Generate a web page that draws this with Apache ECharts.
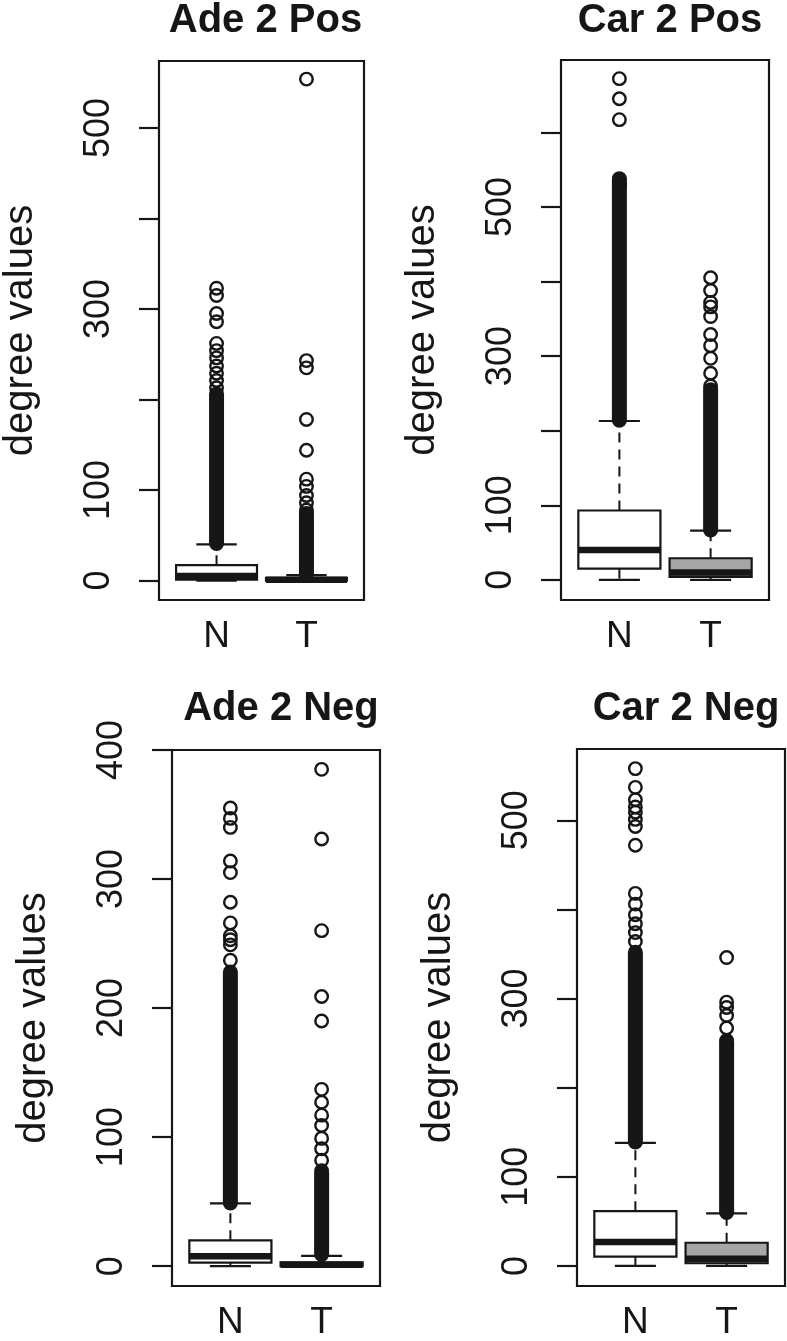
<!DOCTYPE html>
<html>
<head>
<meta charset="utf-8">
<script src="https://cdn.jsdelivr.net/npm/echarts@6/dist/echarts.min.js"></script>
<style>
html,body{margin:0;padding:0;background:#ffffff;}
#chart{width:787px;height:1341px;}
</style>
</head>
<body>
<div id="chart"></div>
<script>
// ---------------- data ----------------
const categories = ['N', 'T'];
const panelTitles = ['Ade 2 Pos', 'Car 2 Pos', 'Ade 2 Neg', 'Car 2 Neg'];
const yAxisName = 'degree values';

// box statistics per category: [lower whisker, Q1, median, Q3, upper whisker]
const ade2PosBox = [[0, 1, 5, 17, 40], [0, 0, 1, 3, 6]];
const car2PosBox = [[0, 15, 40, 93, 213], [0, 4, 10, 29, 66]];
const ade2NegBox = [[0, 2.7, 7.7, 20, 48.6], [0, 0, 1, 3, 8]];
const car2NegBox = [[0, 10.5, 27, 61.5, 138], [0, 3, 8, 26, 59]];

// ranges packed solid with outlier circles: [from, to] per category
const ade2PosDense = [[41, 206], [7, 74]];
const car2PosDense = [[214, 536], [67, 255]];
const ade2NegDense = [[49, 228], [9, 72]];
const car2NegDense = [[139, 352], [60, 251]];

// individually visible outliers
const ade2PosOutN = [323, 315, 295, 286, 262, 254, 246, 237, 229, 221, 213];
const ade2PosOutT = [554, 243, 235, 178, 144, 112, 104, 94, 86, 78];
const car2PosOutN = [672, 645, 617, 538, 530];
const car2PosOutT = [405, 388, 372, 366, 353, 329, 314, 297, 277, 260];
const ade2NegOutN = [355, 347, 340, 314, 305, 282, 266, 256, 253, 249, 237];
const ade2NegOutT = [385, 331, 260, 209, 190, 137, 127, 117, 109, 99, 91, 82, 74];
const car2NegOutN = [558, 537, 523, 515, 509, 501, 493, 472, 418, 406, 394, 384, 374, 364];
const car2NegOutT = [346, 296, 290, 281, 267, 253];

// y tick marks and labelled ticks
const ade2PosTicks = [0, 100, 200, 300, 400, 500];
const ade2PosLabels = [0, 100, 300, 500];
const car2PosTicks = [0, 100, 200, 300, 400, 500, 600];
const car2PosLabels = [0, 100, 300, 500];
const ade2NegTicks = [0, 100, 200, 300, 400];
const ade2NegLabels = [0, 100, 200, 300, 400];
const car2NegTicks = [0, 100, 200, 300, 400, 500];
const car2NegLabels = [0, 100, 300, 500];

// ---------------- layout / style ----------------
const INK = '#161616';
const GRAY = '#a6a6a6';
const FONT = 'Liberation Sans, Arial, Helvetica, sans-serif';
const BOX_WIDTH = 0.9;

const panels = [
  {title: panelTitles[0], box: ade2PosBox, dense: ade2PosDense, out: [ade2PosOutN, ade2PosOutT],
   ticks: ade2PosTicks, labels: ade2PosLabels, ymin: -21.5, ymax: 574,
   grid: {left: 157, top: 61, width: 207, height: 539}, titleTop: -4},
  {title: panelTitles[1], box: car2PosBox, dense: car2PosDense, out: [car2PosOutN, car2PosOutT],
   ticks: car2PosTicks, labels: car2PosLabels, ymin: -27, ymax: 697,
   grid: {left: 561, top: 60, width: 208, height: 540}, titleTop: -4},
  {title: panelTitles[2], box: ade2NegBox, dense: ade2NegDense, out: [ade2NegOutN, ade2NegOutT],
   ticks: ade2NegTicks, labels: ade2NegLabels, ymin: -15.4, ymax: 400,
   grid: {left: 172, top: 750, width: 208, height: 538}, titleTop: 684},
  {title: panelTitles[3], box: car2NegBox, dense: car2NegDense, out: [car2NegOutN, car2NegOutT],
   ticks: car2NegTicks, labels: car2NegLabels, ymin: -22.5, ymax: 580,
   grid: {left: 577, top: 749, width: 208, height: 540}, titleTop: 684}
];

function renderBox(params, api) {
  const x = api.value(0);
  const lo = api.value(1), q1 = api.value(2), med = api.value(3), q3 = api.value(4), hi = api.value(5);
  const halfW = api.size([BOX_WIDTH, 0])[0] / 2;
  const capHalf = halfW / 2;
  const cx = api.coord([x, med])[0];
  const yLo = api.coord([x, lo])[1];
  const yQ1 = api.coord([x, q1])[1];
  const yMed = api.coord([x, med])[1];
  const yQ3 = api.coord([x, q3])[1];
  const yHi = api.coord([x, hi])[1];
  const fill = params.dataIndex === 0 ? '#ffffff' : GRAY;
  const dashed = {stroke: INK, lineWidth: 2, lineDash: [10, 7]};
  const solid = {stroke: INK, lineWidth: 2.2};
  return {
    type: 'group',
    children: [
      {type: 'line', shape: {x1: cx, y1: yQ3, x2: cx, y2: yHi}, style: dashed},
      {type: 'line', shape: {x1: cx, y1: yQ1, x2: cx, y2: yLo}, style: dashed},
      {type: 'line', shape: {x1: cx - capHalf, y1: yHi, x2: cx + capHalf, y2: yHi}, style: solid},
      {type: 'line', shape: {x1: cx - capHalf, y1: yLo, x2: cx + capHalf, y2: yLo}, style: solid},
      {type: 'rect', shape: {x: cx - halfW, y: yQ3, width: 2 * halfW, height: Math.max(yQ1 - yQ3, 0.5)},
       style: {fill: fill, stroke: INK, lineWidth: 2.2}},
      {type: 'line', shape: {x1: cx - halfW, y1: yMed, x2: cx + halfW, y2: yMed},
       style: {stroke: INK, lineWidth: 6.5}}
    ]
  };
}

function renderDense(params, api) {
  const x = api.value(0);
  const pTop = api.coord([x, api.value(2)]);
  const pBot = api.coord([x, api.value(1)]);
  const r = 7.5;
  return {
    type: 'rect',
    shape: {x: pTop[0] - r, y: pTop[1] - r, width: 2 * r, height: pBot[1] - pTop[1] + 2 * r, r: r},
    style: {fill: INK}
  };
}

const option = {
  backgroundColor: '#ffffff',
  animation: false,
  title: [],
  grid: [],
  xAxis: [],
  yAxis: [],
  series: []
};

panels.forEach((p, i) => {
  option.title.push({
    text: p.title,
    left: p.grid.left + p.grid.width / 2,
    top: p.titleTop,
    textAlign: 'center',
    textStyle: {fontFamily: FONT, fontWeight: 'bold', fontSize: 40, color: INK}
  });
  option.grid.push(Object.assign({show: true, borderColor: INK, borderWidth: 2.2,
    backgroundColor: 'transparent', containLabel: false}, p.grid));
  option.xAxis.push({
    type: 'value', gridIndex: i, min: 0.36, max: 2.64,
    axisLine: {show: false}, axisTick: {show: false}, splitLine: {show: false},
    axisLabel: {
      customValues: [1, 2],
      formatter: v => categories[Math.round(v) - 1] || '',
      fontFamily: FONT, fontSize: 37, color: INK, margin: 18
    }
  });
  option.yAxis.push({
    type: 'value', gridIndex: i, min: p.ymin, max: p.ymax,
    name: yAxisName, nameLocation: 'middle', nameRotate: 90, nameGap: 118,
    nameTextStyle: {fontFamily: FONT, fontSize: 40, color: INK},
    axisLine: {show: false},
    splitLine: {show: false},
    axisTick: {show: true, customValues: p.ticks, length: 20, lineStyle: {color: INK, width: 2.2}},
    axisLabel: {customValues: p.labels, rotate: 90, margin: 42,
      fontFamily: FONT, fontSize: 36, color: INK}
  });
  option.series.push({
    type: 'custom', xAxisIndex: i, yAxisIndex: i, renderItem: renderBox, clip: true,
    data: p.box.map((b, k) => [k + 1].concat(b))
  });
  option.series.push({
    type: 'custom', xAxisIndex: i, yAxisIndex: i, renderItem: renderDense, clip: true,
    data: p.dense.map((d, k) => [k + 1, d[0], d[1]])
  });
  option.series.push({
    type: 'scatter', xAxisIndex: i, yAxisIndex: i, symbol: 'circle', symbolSize: 12.5,
    itemStyle: {color: 'rgba(0,0,0,0)', borderColor: INK, borderWidth: 2.4, opacity: 1},
    data: p.out[0].map(v => [1, v]).concat(p.out[1].map(v => [2, v]))
  });
});

const chart = echarts.init(document.getElementById('chart'), null, {renderer: 'canvas'});
chart.setOption(option);
</script>
</body>
</html>
